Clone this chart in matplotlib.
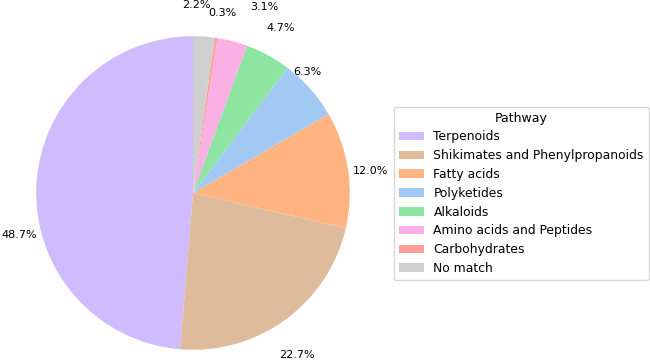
import numpy as np
import matplotlib.pyplot as plt
import seaborn as sns

pathways = ["Terpenoids", "Shikimates and Phenylpropanoids", "Fatty acids",
            "Polyketides", "Alkaloids", "Amino acids and Peptides",
            "Carbohydrates", "No match"]
shares = [48.7, 22.7, 12.0, 6.3, 4.7, 3.1, 0.3, 2.2]

pal = sns.color_palette("pastel")
colors = [pal[4], pal[5], pal[1], pal[0], pal[2], pal[6], pal[3], pal[7]]

# label nudges (degrees, radius) so the small slices don't collide
ang_nudge = [16, -3.5, -1.5, 5, 0.6, -6.4, -0.8, 3]
label_r = [1.14, 1.23, 1.14, 1.065, 1.19, 1.27, 1.16, 1.2]

fig = plt.figure(figsize=(6.5, 3.62), dpi=100)
ax = fig.add_axes([-3 / 650, -27 / 362, 392 / 650, 392 / 362])

wedges, texts, autotexts = ax.pie(shares, colors=colors, startangle=90,
                                  autopct="%1.1f%%", pctdistance=1.15,
                                  textprops={"fontsize": 8})
ax.set_aspect("equal")

for w, t, da, r in zip(wedges, autotexts, ang_nudge, label_r):
    mid = np.deg2rad((w.theta1 + w.theta2) / 2 + da)
    t.set_position((r * np.cos(mid), r * np.sin(mid)))

fig.legend(wedges, pathways, title="Pathway", loc="center left",
           bbox_to_anchor=(0.606, 0.466), borderaxespad=0,
           fontsize=8.9, title_fontsize=9, labelspacing=0.47)

fig.savefig("out.png", dpi=100)
